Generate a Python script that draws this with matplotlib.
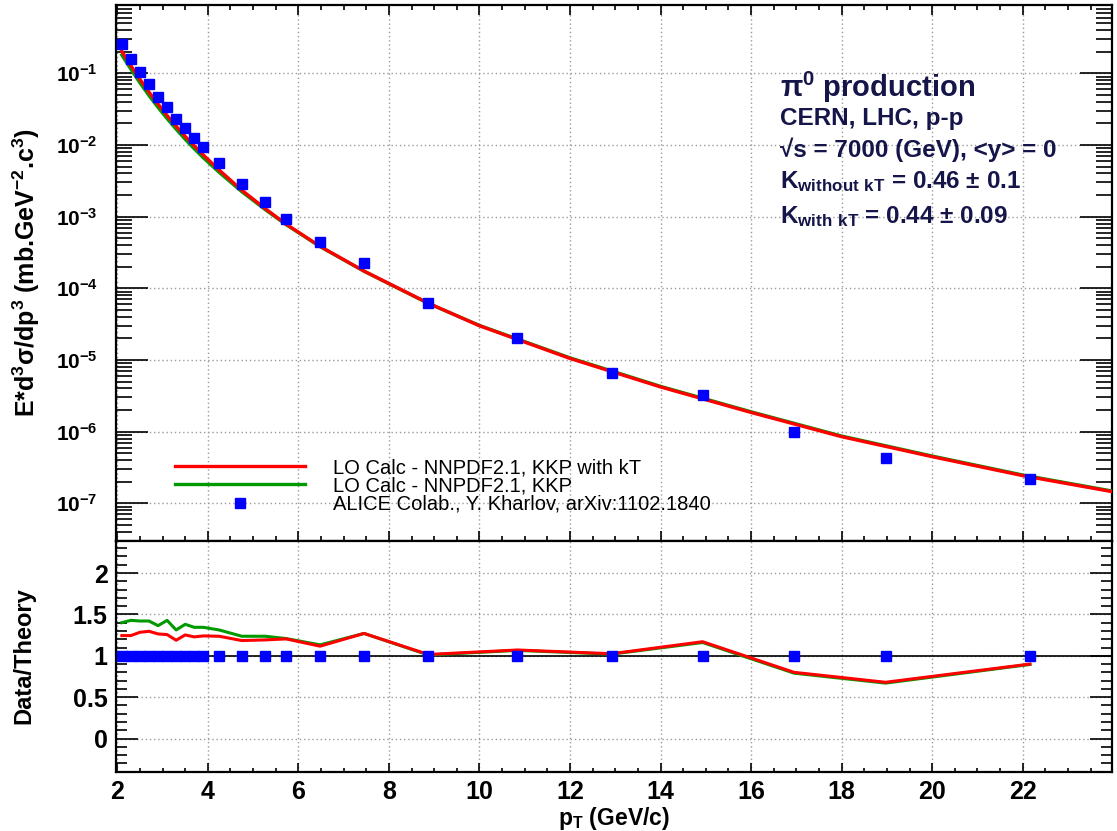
import numpy as np
import matplotlib
matplotlib.use('Agg')
import matplotlib.pyplot as plt
from matplotlib.ticker import LogLocator, MultipleLocator, NullFormatter, FixedFormatter, FixedLocator
from matplotlib.lines import Line2D

plt.rcParams['font.family'] = ['Liberation Sans', 'DejaVu Sans']
plt.rcParams['font.weight'] = 'bold'
plt.rcParams['mathtext.fontset'] = 'custom'
plt.rcParams['mathtext.rm'] = 'Liberation Sans'
plt.rcParams['mathtext.bf'] = 'Liberation Sans:bold'
plt.rcParams['mathtext.default'] = 'bf'

# ALICE pi0 spectrum, p-p at 7 TeV
pt_data = [2.1, 2.3, 2.5, 2.7, 2.9, 3.1, 3.3, 3.5, 3.7, 3.9, 4.25, 4.75, 5.27, 5.73,
           6.48, 7.45, 8.87, 10.84, 12.92, 14.93, 16.95, 18.97, 22.16]
xsec_data = [0.254, 0.158, 0.105, 0.0703, 0.0463, 0.0342, 0.0228, 0.0171, 0.01265,
             0.00927, 0.00554, 0.00282, 0.00158, 0.000936, 0.000438, 0.000223,
             6.3e-5, 2.0e-5, 6.65e-6, 3.21e-6, 1.0e-6, 4.25e-7, 2.18e-7]

# LO calculation (NNPDF2.1 + KKP), with and without intrinsic kT
pt_theory = [2.1, 2.3, 2.5, 2.7, 2.9, 3.1, 3.3, 3.5, 3.7, 3.9, 4.25, 4.75, 5.27, 5.73,
             6.48, 7.45, 8.87, 10.0, 12.0, 14.0, 16.0, 18.0, 20.0, 22.0, 23.98]
theory_kt = [0.203, 0.128, 0.0826, 0.0547, 0.0372, 0.0258, 0.0183, 0.0132, 0.00973,
             0.00726, 0.00447, 0.00234, 0.00129, 0.000785, 0.000385, 0.000174,
             6.2e-5, 3.0e-5, 1.05e-5, 4.2e-6, 1.85e-6, 8.5e-7, 4.47e-7, 2.43e-7, 1.45e-7]
theory_nokt = [0.180, 0.114, 0.0737, 0.0490, 0.0334, 0.0233, 0.0166, 0.0120, 0.00885,
               0.00663, 0.00415, 0.00223, 0.00125, 0.000772, 0.000381, 0.000173,
               6.15e-5, 3.03e-5, 1.07e-5, 4.28e-6, 1.89e-6, 8.67e-7, 4.56e-7, 2.48e-7, 1.48e-7]

# data / theory at the measured points
ratio_kt = [1.244, 1.244, 1.284, 1.296, 1.264, 1.256, 1.188, 1.252, 1.228, 1.24, 1.236,
            1.184, 1.192, 1.204, 1.116, 1.27, 1.016, 1.07, 1.025, 1.17, 0.80, 0.68, 0.90]
ratio_nokt = [1.40, 1.428, 1.42, 1.42, 1.364, 1.428, 1.312, 1.38, 1.344, 1.344, 1.312,
              1.236, 1.236, 1.208, 1.132, 1.27, 1.01, 1.065, 1.02, 1.16, 0.79, 0.67, 0.895]

ratio_ticks = [0, 0.5, 1, 1.5, 2]
ratio_ticklabels = ['0', '0.5', '1', '1.5', '2']

info_lines = [r'$\pi^{0}$ production', 'CERN, LHC, p-p', '√s = 7000 (GeV), <y> = 0',
              r'K$_{\mathbf{without\ kT}}$ = 0.46 $\pm$ 0.1', r'K$_{\mathbf{with\ kT}}$ = 0.44 $\pm$ 0.09']
legend_labels = ['LO Calc - NNPDF2.1, KKP with kT', 'LO Calc - NNPDF2.1, KKP',
                 'ALICE Colab., Y. Kharlov, arXiv:1102.1840']

RED = '#ff0000'; GREEN = '#009a00'; BLUE = '#0000ff'; TXT = '#15154a'
grid_kw = dict(color='#9a9a9a', linestyle=(0, (1, 2)), linewidth=1.0)

fig = plt.figure(figsize=(11.17, 8.31), dpi=100)
ax_top = fig.add_axes([0.1038, 0.3493, 0.8920, 0.6450])
ax_bot = fig.add_axes([0.1038, 0.0714, 0.8920, 0.2779], sharex=ax_top)

# --- spectrum ---
ax_top.plot(pt_theory, theory_nokt, color=GREEN, lw=2.4, zorder=3)
ax_top.plot(pt_theory, theory_kt, color=RED, lw=2.4, zorder=4)
ax_top.plot(pt_data, xsec_data, ls='none', marker='s', ms=6.5, color=BLUE, zorder=5)
ax_top.set_yscale('log')
ax_top.set_ylim(3.0e-8, 0.906)
ax_top.set_xlim(1.97, 23.98)
ax_top.yaxis.set_major_locator(LogLocator(base=10, numticks=20))
ax_top.yaxis.set_minor_locator(LogLocator(base=10, subs=np.arange(2, 10), numticks=20))
ax_top.yaxis.set_minor_formatter(NullFormatter())
ax_top.tick_params(axis='y', which='major', direction='in', length=23, width=1.2,
                   labelsize=15, pad=13, left=True, right=True)
ax_top.tick_params(axis='y', which='minor', direction='in', length=11.5, width=1.2,
                   left=True, right=True, labelleft=False)
ax_top.tick_params(axis='x', which='major', direction='in', length=7, width=1.2,
                   top=True, bottom=True, labelbottom=False)
ax_top.tick_params(axis='x', which='minor', direction='in', length=3.5, width=1.2,
                   top=True, bottom=True, labelbottom=False)
ax_top.grid(True, which='major', **grid_kw)

handles = [Line2D([], [], color=RED, lw=2.4),
           Line2D([], [], color=GREEN, lw=2.4),
           Line2D([], [], ls='none', marker='s', ms=6.5, color=BLUE)]
ax_top.legend(handles, legend_labels, loc='upper left', bbox_to_anchor=(0.0592, 0.154),
              frameon=False, prop={'weight': 'normal', 'size': 14.5}, handlelength=6.45,
              handletextpad=1.4, labelspacing=-0.04, borderpad=0, borderaxespad=0)

info_y = [0.8284, 0.7756, 0.7164, 0.6575, 0.5922]
info_size = [21, 17.5, 17.5, 17.5, 17.5]
for txt, y, fs in zip(info_lines, info_y, info_size):
    ax_top.text(0.666, y, txt, transform=ax_top.transAxes, fontsize=fs, color=TXT,
                va='baseline', ha='left', fontweight='bold')

# --- ratio ---
ax_bot.axhline(1.0, color='black', lw=1.2, zorder=2)
ax_bot.plot(pt_data, ratio_nokt, color=GREEN, lw=2.2, zorder=3)
ax_bot.plot(pt_data, ratio_kt, color=RED, lw=2.2, zorder=4)
ax_bot.plot(pt_data, np.array(xsec_data) / np.array(xsec_data), ls='none', marker='s',
            ms=6.5, color=BLUE, zorder=5)
ax_bot.set_ylim(-0.4, 2.39)
ax_bot.yaxis.set_major_locator(FixedLocator(ratio_ticks))
ax_bot.yaxis.set_major_formatter(FixedFormatter(ratio_ticklabels))
ax_bot.yaxis.set_minor_locator(MultipleLocator(0.1))
ax_bot.yaxis.set_minor_formatter(NullFormatter())
ax_bot.xaxis.set_major_locator(MultipleLocator(2))
ax_bot.xaxis.set_minor_locator(MultipleLocator(0.5))
ax_bot.tick_params(axis='y', which='major', direction='in', length=16, width=1.2,
                   labelsize=18, pad=6, left=True, right=True)
ax_bot.tick_params(axis='y', which='minor', direction='in', length=8, width=1.2,
                   left=True, right=True, labelleft=False)
ax_bot.tick_params(axis='x', which='major', direction='in', length=6.5, width=1.2,
                   labelsize=18, pad=6, top=False, bottom=True)
ax_bot.tick_params(axis='x', which='minor', direction='in', length=3.2, width=1.2,
                   top=False, bottom=True, labelbottom=False)
ax_bot.grid(True, which='major', **grid_kw)

for ax in (ax_top, ax_bot):
    for sp in ax.spines.values():
        sp.set_linewidth(1.6)

ax_bot.set_xlabel(r'p$_{T}$ (GeV/c)', fontsize=16.5, fontweight='bold')
ax_bot.xaxis.set_label_coords(0.5, -0.145)
ax_bot.xaxis.label.set_va('top')

fig.text(26 / 1117, 0.6718, r'E*d$^{3}$σ/dp$^{3}$ (mb.GeV$^{-2}$.c$^{3}$)', rotation=90,
         ha='center', va='center', fontsize=18, fontweight='bold')
fig.text(24 / 1117, 0.2106, 'Data/Theory', rotation=90, ha='center', va='center',
         fontsize=17, fontweight='bold')

fig.savefig('out.png', dpi=100)
